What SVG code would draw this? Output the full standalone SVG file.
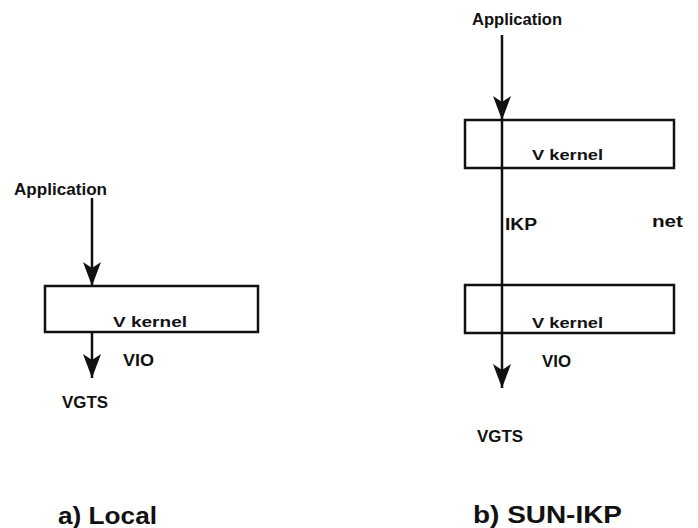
<svg xmlns="http://www.w3.org/2000/svg" width="698" height="528" viewBox="0 0 698 528">
<style>
.t{font-family:"Liberation Sans",Arial,sans-serif;font-weight:bold;fill:#111;}
.s{font-size:16px;}
.k{font-size:15px;}
.c{font-size:23px;}
.box{fill:#fff;stroke:#111;stroke-width:2.5;}
.ln{stroke:#111;stroke-width:2.5;fill:none;}
</style>
<defs>
<marker id="ah" viewBox="0 0 24 18" refX="24" refY="9" markerWidth="24" markerHeight="18" markerUnits="userSpaceOnUse" orient="auto">
<path d="M0,0 L24,9 L0,18 L6,9 Z" fill="#111"/>
</marker>
</defs>
<rect width="698" height="528" fill="#fff"/>
<g id="local-kernel">
<rect class="box" x="45" y="286" width="213" height="46"/>
<text class="t k" x="113" y="327" textLength="74" lengthAdjust="spacingAndGlyphs">V kernel</text>
</g>
<g id="sun-kernel-top">
<rect class="box" x="465" y="120" width="209" height="48"/>
<text class="t k" x="532" y="160" textLength="71" lengthAdjust="spacingAndGlyphs">V kernel</text>
</g>
<g id="sun-kernel-bottom">
<rect class="box" x="465" y="285" width="209" height="48"/>
<text class="t k" x="532" y="328" textLength="71" lengthAdjust="spacingAndGlyphs">V kernel</text>
</g>
<g id="connectors">
<line class="ln" x1="92" y1="198" x2="92" y2="286" marker-end="url(#ah)"/>
<line class="ln" x1="92" y1="332" x2="92" y2="378" marker-end="url(#ah)"/>
<line class="ln" x1="502" y1="35" x2="502" y2="120" marker-end="url(#ah)"/>
<line class="ln" x1="502" y1="120" x2="502" y2="388" marker-end="url(#ah)"/>
</g>
<g id="local-labels">
<text class="t s" x="14" y="195" textLength="93" lengthAdjust="spacingAndGlyphs">Application</text>
<text class="t s" x="123" y="366" textLength="31" lengthAdjust="spacingAndGlyphs">VIO</text>
<text class="t s" x="62" y="408" textLength="46" lengthAdjust="spacingAndGlyphs">VGTS</text>
<text class="t c" x="58" y="524" textLength="99" lengthAdjust="spacingAndGlyphs">a) Local</text>
</g>
<g id="sun-labels">
<text class="t s" x="472" y="25" textLength="90" lengthAdjust="spacingAndGlyphs">Application</text>
<text class="t s" x="505" y="230" textLength="32" lengthAdjust="spacingAndGlyphs">IKP</text>
<text class="t s" x="652" y="227" textLength="31" lengthAdjust="spacingAndGlyphs">net</text>
<text class="t s" x="542" y="367" textLength="29" lengthAdjust="spacingAndGlyphs">VIO</text>
<text class="t s" x="477" y="442" textLength="46" lengthAdjust="spacingAndGlyphs">VGTS</text>
<text class="t c" x="473" y="523" textLength="149" lengthAdjust="spacingAndGlyphs">b) SUN-IKP</text>
</g>
</svg>
